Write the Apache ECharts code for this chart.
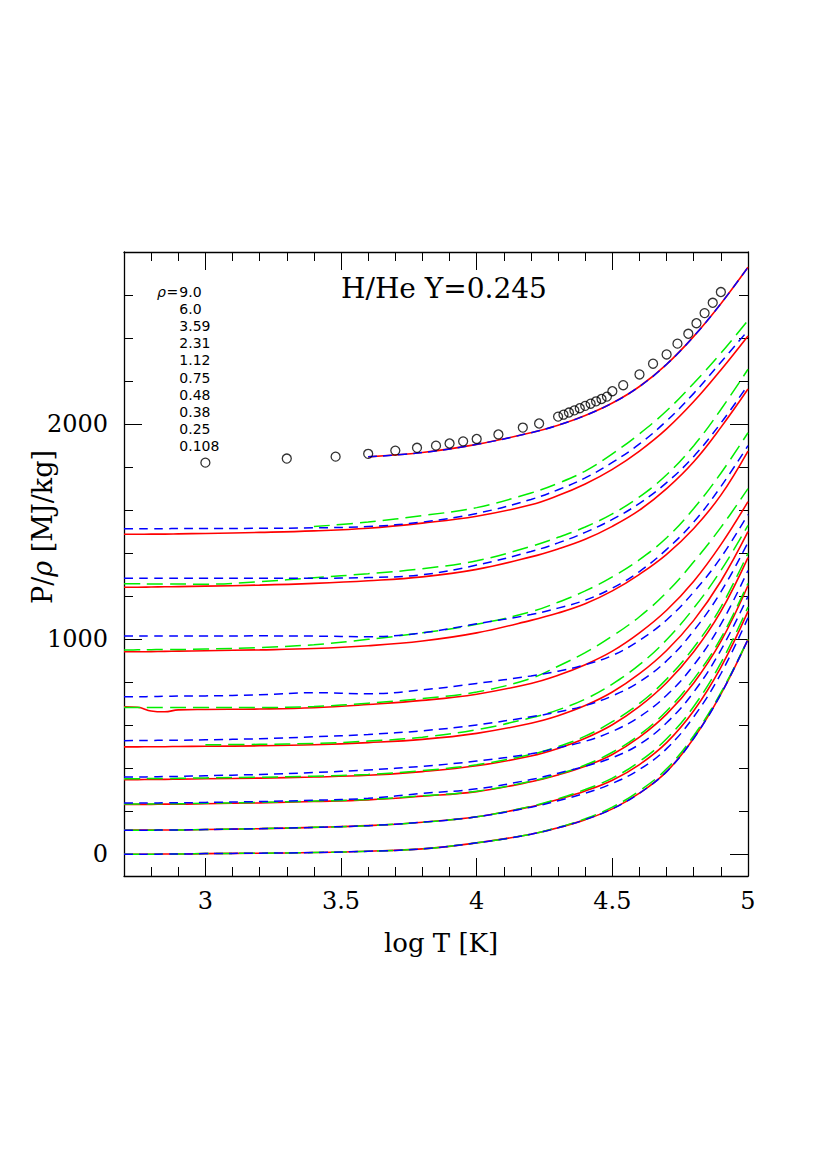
<!DOCTYPE html>
<html><head><meta charset="utf-8">
<script src="https://cdn.jsdelivr.net/npm/echarts@6/dist/echarts.min.js"></script>
<style>html,body{margin:0;padding:0;background:#fff}#c{width:830px;height:1175px}</style>
</head><body><div id="c"></div>
<script>
// log T grid shared by all model curves
const logT = [2.7, 2.75, 2.8, 2.85, 2.9, 3.0, 3.2, 3.4, 3.6, 3.8, 4.0, 4.2, 4.3, 4.4, 4.5, 4.6, 4.7, 4.8, 4.9, 5.0];
const rhoLabels = ['9.0','6.0','3.59','2.31','1.12','0.75','0.48','0.38','0.25','0.108'];
const N = null;
// red solid
const red = [
  [N,N,N,N,N,N,N,N,1848,1868,1906,1960,1995,2040,2098,2175,2278,2408,2560,2729],
  [1488,1488,1489,1489,1490,1492,1497,1504,1516,1540,1572,1625,1668,1722,1790,1875,1978,2105,2252,2410],
  [1242,1242,1243,1244,1245,1247,1252,1260,1272,1290,1325,1383,1420,1465,1525,1600,1700,1825,1985,2163],
  [942,942,943,944,945,947,951,957,970,992,1030,1088,1122,1165,1225,1302,1395,1515,1670,1875],
  [686,684,667,663,672,674,676,682,697,716,745,795,833,882,945,1030,1135,1270,1440,1640],
  [500,500,501,501,502,503,505,510,520,535,563,610,645,692,755,840,948,1088,1270,1500],
  [348,348,349,349,350,352,355,360,368,385,412,458,493,540,603,688,798,942,1130,1380],
  [233,233,233,234,234,236,240,246,254,271,292,338,370,410,465,545,652,797,990,1250],
  [113,113,113,114,114,116,120,126,134,150,175,222,256,295,345,418,520,668,870,1130],
  [1,1,1,2,2,4,6,9,15,26,54,94,124,162,212,285,385,540,745,1000]
];
// blue short dashed
const blue = [
  [N,N,N,N,N,N,N,N,1848,1868,1906,1960,1995,2040,2098,2175,2278,2408,2560,2729],
  [1514,1514,1514,1514,1515,1515,1516,1518,1524,1545,1585,1650,1695,1750,1822,1908,2015,2143,2288,2435],
  [1284,1284,1284,1284,1284,1284,1284,1284,1287,1300,1345,1408,1448,1497,1557,1632,1728,1850,2005,2182],
  [1015,1015,1015,1015,1015,1015,1016,1015,1012,1030,1072,1115,1145,1182,1238,1315,1418,1545,1710,1900],
  [733,733,734,735,736,737,742,752,747,765,795,830,852,882,925,995,1090,1220,1380,1580],
  [529,530,530,531,531,533,538,547,558,575,602,640,662,692,737,802,900,1040,1220,1450],
  [360,360,361,362,363,366,372,381,393,410,434,468,496,526,572,640,740,880,1070,1320],
  [239,239,239,240,240,242,246,252,261,284,305,348,378,410,450,512,612,755,950,1200],
  [113,113,113,114,114,116,120,126,134,150,175,220,250,285,330,395,492,640,840,1100],
  [1,1,1,2,2,4,6,9,15,26,54,94,124,162,212,285,385,540,745,1000]
];
// green long dashed
const green = [
  null,
  [N,N,N,N,N,N,N,1524,1545,1575,1612,1680,1725,1782,1862,1955,2062,2190,2330,2482],
  [1258,1258,1257,1257,1257,1256,1268,1286,1305,1328,1365,1432,1474,1522,1583,1662,1765,1900,2068,2255],
  [950,951,952,953,953,955,962,975,1000,1030,1070,1128,1172,1225,1290,1370,1472,1608,1772,1960],
  [683,683,683,683,683,683,683,688,703,725,755,818,875,938,1015,1105,1218,1360,1520,1700],
  [N,N,N,N,N,510,512,516,527,545,580,635,672,722,792,882,998,1145,1320,1530],
  [352,352,353,353,354,356,359,364,372,390,417,465,501,550,617,702,815,962,1150,1400],
  [235,235,235,236,236,238,242,248,256,273,294,340,373,416,475,556,667,815,1005,1260],
  [113,113,113,114,114,116,120,126,134,150,175,224,259,302,355,432,538,688,890,1150],
  [1,1,1,2,2,4,6,9,15,26,54,94,126,166,220,296,398,552,752,1000]
];
// open circles (rho = 9.0)
const circT = [3.0,3.3,3.48,3.6,3.7,3.78,3.85,3.9,3.95,4.0,4.08,4.17,4.23,4.30,4.32,4.34,4.36,4.38,4.40,4.42,4.44,4.46,4.48,4.5,4.54,4.6,4.65,4.7,4.74,4.78,4.81,4.84,4.87,4.9];
const circV = [1821,1840,1849,1862,1877,1890,1900,1910,1920,1931,1952,1984,2003,2035,2044,2054,2064,2074,2085,2095,2106,2117,2128,2153,2181,2231,2281,2324,2374,2420,2469,2516,2564,2614];
// ticks
const xMajor = [3, 3.5, 4, 4.5, 5];
const xMinor = [2.8,2.9,3.1,3.2,3.3,3.4,3.6,3.7,3.8,3.9,4.1,4.2,4.3,4.4,4.6,4.7,4.8,4.9];
const yMajor = [0, 1000, 2000];
const yMinor = [200,400,600,800,1200,1400,1600,1800,2200,2400,2600];

const SERIF = '"DejaVu Serif", serif';
const SANS = '"DejaVu Sans", sans-serif';

function pairs(arr) {
  const out = [];
  arr.forEach((v, i) => { if (v !== null) out.push([logT[i], v]); });
  return out;
}
function xAx(pos, ticks, len, labels, line) {
  return {
    type: 'value', min: 2.7, max: 5, position: pos,
    axisLine: { show: line, onZero: false, lineStyle: { color: '#000', width: 1.3 } },
    axisTick: { show: true, inside: true, length: len, customValues: ticks, lineStyle: { color: '#000', width: 1 } },
    axisLabel: labels ? { show: true, customValues: ticks, formatter: v => String(v), color: '#000', fontFamily: SERIF, fontSize: 24, margin: 13 } : { show: false },
    splitLine: { show: false }
  };
}
function yAx(pos, ticks, len, labels, line) {
  return {
    type: 'value', min: -100, max: 2800, position: pos,
    axisLine: { show: line, onZero: false, lineStyle: { color: '#000', width: 1.3 } },
    axisTick: { show: true, inside: true, length: len, customValues: ticks, lineStyle: { color: '#000', width: 1 } },
    axisLabel: labels ? { show: true, customValues: ticks, formatter: v => String(v), color: '#000', fontFamily: SERIF, fontSize: 24, margin: 16 } : { show: false },
    splitLine: { show: false }
  };
}

const series = [];
const lineBase = { type: 'line', showSymbol: false, smooth: 0.4 };
red.forEach(a => { if (a) series.push(Object.assign({}, lineBase, { data: pairs(a), lineStyle: { color: '#ff0000', width: 1.6, type: 'solid' }, z: 2 })); });
green.forEach(a => { if (a) series.push(Object.assign({}, lineBase, { data: pairs(a), lineStyle: { color: '#00ee00', width: 1.5, type: [16, 7] }, z: 3 })); });
blue.forEach(a => { if (a) series.push(Object.assign({}, lineBase, { data: pairs(a), lineStyle: { color: '#0000ff', width: 1.5, type: [9, 6] }, z: 4 })); });
series.push({ type: 'scatter', data: circT.map((t, i) => [t, circV[i]]), symbol: 'circle', symbolSize: 9,
  itemStyle: { color: 'rgba(0,0,0,0)', borderColor: '#000', borderWidth: 1.3 }, z: 5 });
series.forEach(s => { s.xAxisIndex = 0; s.yAxisIndex = 0; s.animation = false; s.silent = true; });

const graphics = [];
const txt = (x, y, text, font, extra) => Object.assign({ type: 'text', x: x, y: y, style: { text: text, font: font, fill: '#000', textAlign: 'center', textVerticalAlign: 'middle', align: 'center', verticalAlign: 'middle' } }, extra || {});
graphics.push(txt(444, 288, 'H/He Y=0.245', '28px ' + SERIF));
graphics.push(txt(441, 943, 'log T [K]', '26px ' + SERIF));
graphics.push({ type: 'text', x: 42, y: 527, rotation: Math.PI / 2, style: {
  text: 'P/{i|ρ} [MJ/kg]', font: '27px ' + SERIF, fill: '#000', textAlign: 'center', textVerticalAlign: 'middle', align: 'center', verticalAlign: 'middle',
  rich: { i: { fontStyle: 'italic', fontFamily: SERIF, fontSize: 27, fill: '#000' } } } });
const leftTxt = (x, y, text, font) => ({ type: 'text', x: x, y: y, style: { text: text, font: font, fill: '#000', textAlign: 'left', textVerticalAlign: 'middle', align: 'left', verticalAlign: 'middle' } });
graphics.push(leftTxt(157, 292.3, 'ρ', 'italic 14px ' + SANS));
graphics.push(leftTxt(166.5, 292.3, '=', '14px ' + SANS));
rhoLabels.forEach((s, i) => graphics.push(leftTxt(179.3, 292.3 + 17.04 * i, s, '14px ' + SANS)));

const chart = echarts.init(document.getElementById('c'), null, { renderer: 'svg' });
chart.setOption({
  animation: false,
  backgroundColor: '#fff',
  grid: { left: 124, top: 252, width: 624, height: 624, containLabel: false },
  xAxis: [xAx('bottom', xMajor, 18, true, true), xAx('bottom', xMinor, 9, false, false), xAx('top', xMajor, 18, false, true), xAx('top', xMinor, 9, false, false)],
  yAxis: [yAx('left', yMajor, 18, true, true), yAx('left', yMinor, 9, false, false), yAx('right', yMajor, 18, false, true), yAx('right', yMinor, 9, false, false)],
  series: series,
  graphic: graphics
});
</script></body></html>
